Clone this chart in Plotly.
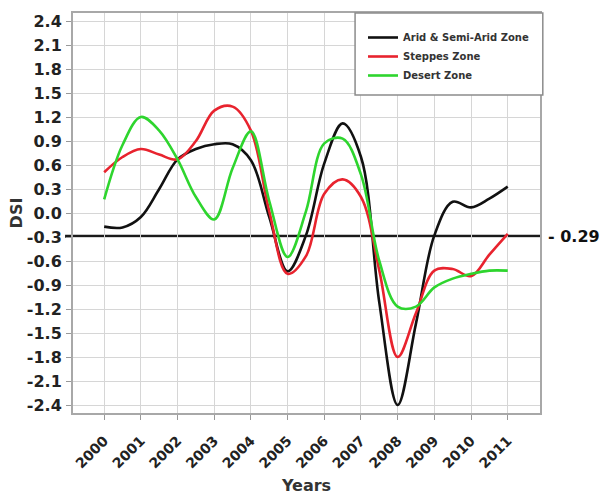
import plotly.graph_objects as go

# Drought Severity Index by zone, sampled every half year
years = [2000.0, 2000.5, 2001.0, 2001.5, 2002.0, 2002.5, 2003.0, 2003.5,
         2004.0, 2004.5, 2005.0, 2005.5, 2006.0, 2006.5, 2007.0, 2007.5,
         2008.0, 2008.5, 2009.0, 2009.5, 2010.0, 2010.5, 2011.0]

arid_semi_arid = [-0.17, -0.18, -0.05, 0.30, 0.67, 0.80, 0.86, 0.86,
                  0.66, -0.05, -0.73, -0.28, 0.62, 1.12, 0.70, -1.12,
                  -2.40, -1.38, -0.28, 0.14, 0.07, 0.18, 0.33]

steppes = [0.51, 0.70, 0.80, 0.73, 0.67, 0.90, 1.28, 1.33,
           1.03, 0.02, -0.76, -0.54, 0.24, 0.42, 0.20, -0.72,
           -1.80, -1.25, -0.72, -0.70, -0.79, -0.52, -0.26]

desert = [0.17, 0.85, 1.20, 1.03, 0.67, 0.20, -0.08, 0.56,
          1.02, 0.15, -0.55, 0.02, 0.87, 0.93, 0.48, -0.60,
          -1.17, -1.17, -0.93, -0.82, -0.76, -0.72, -0.72]

year_ticks = [2000, 2001, 2002, 2003, 2004, 2005, 2006, 2007, 2008, 2009, 2010, 2011]
year_labels = [str(y) for y in year_ticks]

dsi_ticks = [2.4, 2.1, 1.8, 1.5, 1.2, 0.9, 0.6, 0.3, 0.0,
             -0.3, -0.6, -0.9, -1.2, -1.5, -1.8, -2.1, -2.4]
dsi_labels = ["2.4", "2.1", "1.8", "1.5", "1.2", "0.9", "0.6", "0.3", "0.0",
              "-0.3", "-0.6", "-0.9", "-1.2", "-1.5", "-1.8", "-2.1", "-2.4"]

threshold = -0.29
threshold_label = "- 0.29"

series = [
    ("Arid & Semi-Arid Zone", arid_semi_arid, "#111111"),
    ("Steppes Zone", steppes, "#e8232e"),
    ("Desert Zone", desert, "#2ed52e"),
]

FONT = "DejaVu Sans"
TEXT = "#222222"

fig = go.Figure()
for name, values, color in series:
    fig.add_trace(go.Scatter(
        x=years, y=values, name=name, mode="lines",
        line=dict(color=color, width=2.6, shape="spline", smoothing=1.0),
    ))

fig.update_layout(
    width=601, height=496,
    margin=dict(l=73, r=61, t=13, b=83),
    paper_bgcolor="white", plot_bgcolor="white",
    showlegend=True,
    legend=dict(
        x=0.621, y=0.975, xanchor="left", yanchor="top",
        bgcolor="rgba(0,0,0,0)", borderwidth=0,
        font=dict(family=FONT, size=10, color="#333333", weight="bold"),
        tracegroupgap=0,
    ),
    xaxis=dict(
        range=[1999.15, 2011.88],
        automargin=False,
        tickmode="array", tickvals=year_ticks, ticktext=year_labels,
        tickangle=-45,
        tickfont=dict(family=FONT, size=14, color=TEXT, weight="bold"),
        ticks="outside", ticklen=5, tickcolor="#999999",
        ticklabelstandoff=7,
        showgrid=True, gridcolor="#d6d6d6", gridwidth=1,
        showline=True, linecolor="#a8a8a8", linewidth=2, mirror=True,
        zeroline=False,
        title=dict(text="Years", standoff=9,
                   font=dict(family=FONT, size=16, color="#333333", weight="bold")),
    ),
    yaxis=dict(
        range=[-2.5, 2.5],
        automargin=False,
        tickmode="array", tickvals=dsi_ticks, ticktext=dsi_labels,
        tickfont=dict(family=FONT, size=16, color=TEXT, weight="bold"),
        ticks="outside", ticklen=5, tickcolor="#999999",
        ticklabelstandoff=1,
        showgrid=True, gridcolor="#d6d6d6", gridwidth=1,
        showline=True, linecolor="#a8a8a8", linewidth=2, mirror=True,
        zeroline=False,
        title=dict(text="DSI", standoff=0,
                   font=dict(family=FONT, size=16, color="#333333", weight="bold")),
    ),
)

# Reference level line and its label
fig.add_shape(type="line", xref="paper", yref="y",
              x0=-0.017, x1=1.0, y0=threshold, y1=threshold,
              line=dict(color="#1a1a1a", width=3), layer="between")
fig.add_annotation(xref="paper", yref="y", x=1.0, y=threshold,
                   text=threshold_label, showarrow=False,
                   xanchor="left", yanchor="middle", xshift=6,
                   font=dict(family=FONT, size=16, color="#111111", weight="bold"))

# Legend frame
fig.add_shape(type="rect", xref="paper", yref="paper",
              x0=0.604, x1=1.006, y0=0.795, y1=1.0,
              line=dict(color="#8c8c8c", width=1.5),
              fillcolor="white", layer="above")

fig.write_html("out.html")
